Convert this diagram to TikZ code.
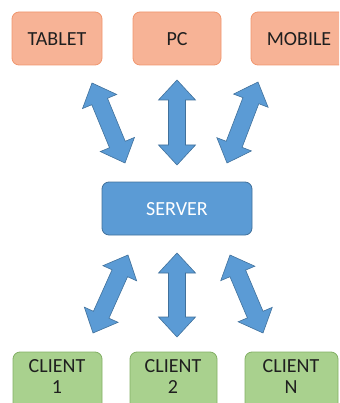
\documentclass[tikz,border=0pt]{standalone}
\usepackage{fontspec}
\setmainfont{Carlito}
\usetikzlibrary{calc}
\definecolor{orfill}{RGB}{247,179,150}
\definecolor{ordraw}{RGB}{240,150,110}
\definecolor{blfill}{RGB}{91,155,213}
\definecolor{bldraw}{RGB}{65,113,156}
\definecolor{grfill}{RGB}{169,209,142}
\definecolor{grdraw}{RGB}{130,175,100}
\tikzset{
  box/.style={rounded corners=7pt, line width=0.8pt},
  devbox/.style={box, fill=orfill, draw=ordraw},
  srvbox/.style={box, fill=blfill, draw=bldraw},
  clbox/.style={box, fill=grfill, draw=grdraw},
  lbl/.style={font=\fontsize{20}{20}\selectfont, text=black!88, align=center},
  arrowstyle/.style={fill=blfill, draw=bldraw, line width=0.6pt, line join=miter},
}
\newcommand\dblarrow[2]{%
  \draw[arrowstyle] let \p1=(#1), \p2=(#2), \n1={atan2(\y2-\y1,\x2-\x1)}, \n2={veclen(\x2-\x1,\y2-\y1)} in
    [shift={(\p1)}, rotate=\n1]
    (0pt,0pt) -- (20pt,18.5pt) -- (20pt,8.5pt) -- (\n2-20pt,8.5pt) -- (\n2-20pt,18.5pt)
    -- (\n2,0pt) -- (\n2-20pt,-18.5pt) -- (\n2-20pt,-8.5pt) -- (20pt,-8.5pt) -- (20pt,-18.5pt) -- cycle;
}
\begin{document}
\begin{tikzpicture}[x=1pt,y=-1pt]
\useasboundingbox (0,0) rectangle (339,403);
\clip (0,0) rectangle (339,403);
% top devices
\draw[devbox] (12,12) rectangle (102,65);
\node[lbl] (tablet) at (57,39) {TABLET};
\draw[devbox] (133,12) rectangle (221,65);
\node[lbl] (pc) at (177,39) {PC};
\draw[devbox] (251,12) rectangle (347,65);
\node[lbl] (mobile) at (299,39) {MOBILE};
% server
\draw[srvbox] (102,182) rectangle (252,235);
\node[lbl, text=white] (server) at (177,209) {SERVER};
% clients
\draw[clbox] (13,352) rectangle (102,420);
\node[lbl] (c1) at (57,377) {CLIENT\\[1pt]1};
\draw[clbox] (130,352) rectangle (217,420);
\node[lbl] (c2) at (173,377) {CLIENT\\[1pt]2};
\draw[clbox] (245,352) rectangle (338,420);
\node[lbl] (cn) at (291,377) {CLIENT\\[1pt]N};
% arrow end points
\coordinate (a1s) at (92,83);  \coordinate (a1e) at (125,163);
\coordinate (a2s) at (177,80); \coordinate (a2e) at (177,165);
\coordinate (a3s) at (258,82); \coordinate (a3e) at (227,163);
\coordinate (b1s) at (128,255); \coordinate (b1e) at (93,333);
\coordinate (b2s) at (177,253); \coordinate (b2e) at (177,337);
\coordinate (b3s) at (230,255); \coordinate (b3e) at (263,333);
\dblarrow{a1s}{a1e}
\dblarrow{a2s}{a2e}
\dblarrow{a3s}{a3e}
\dblarrow{b1s}{b1e}
\dblarrow{b2s}{b2e}
\dblarrow{b3s}{b3e}
\end{tikzpicture}
\end{document}
